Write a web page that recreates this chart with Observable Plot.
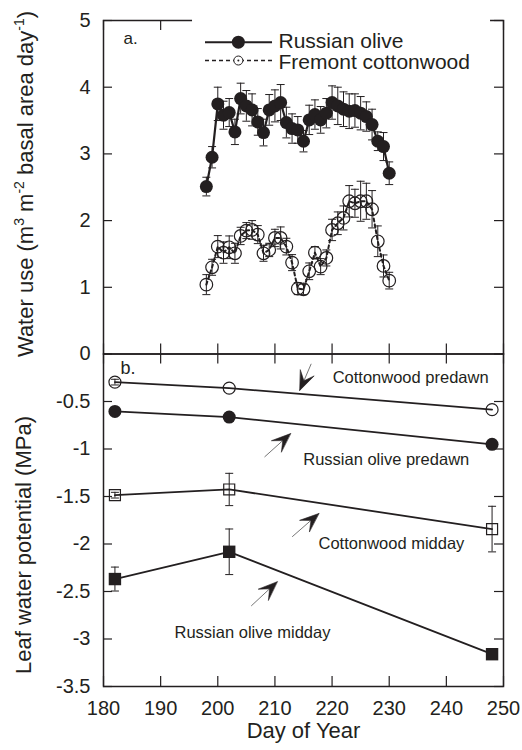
<!DOCTYPE html>
<html><head><meta charset="utf-8">
<script src="https://cdn.jsdelivr.net/npm/d3@7"></script>
<script src="https://cdn.jsdelivr.net/npm/@observablehq/plot@0.6"></script>
<style>
body{margin:0;background:#fff;}
#chart{position:relative;width:522px;height:750px;}
#chart svg{position:absolute;left:0;top:0;overflow:visible;background:transparent;}
</style></head><body><div id="chart"></div>
<script>
// ---------- data: panel a (water use) ----------
const DAYS = [198,199,200,201,202,203,204,205,206,207,208,209,210,211,212,213,214,215,216,217,218,219,220,221,222,223,224,225,226,227,228,229,230];
const OLIVE = [2.51,2.95,3.75,3.58,3.62,3.33,3.83,3.72,3.66,3.48,3.32,3.66,3.72,3.77,3.47,3.38,3.36,3.19,3.51,3.59,3.51,3.61,3.77,3.72,3.67,3.64,3.65,3.61,3.56,3.44,3.19,3.11,2.71];
const OLIVE_ERR = [0.14,0.16,0.25,0.21,0.21,0.19,0.23,0.23,0.24,0.2,0.2,0.23,0.24,0.27,0.23,0.22,0.2,0.16,0.22,0.22,0.2,0.22,0.25,0.28,0.26,0.26,0.25,0.25,0.22,0.23,0.14,0.21,0.17];
const COTTON = [1.04,1.30,1.61,1.52,1.60,1.51,1.77,1.85,1.86,1.79,1.51,1.56,1.74,1.74,1.61,1.37,0.98,0.97,1.24,1.52,1.31,1.44,1.86,1.96,2.04,2.29,2.26,2.29,2.29,2.17,1.69,1.32,1.10];
const COTTON_ERR = [0.15,0.12,0.165,0.16,0.17,0.15,0.13,0.12,0.14,0.135,0.12,0.1,0.13,0.165,0.125,0.12,0.09,0.08,0.125,0.09,0.12,0.12,0.16,0.17,0.18,0.235,0.21,0.3,0.27,0.28,0.23,0.165,0.125];
const SERIES_NAMES = ["Russian olive","Fremont cottonwood"];

// ---------- data: panel b (leaf water potential) ----------
const POT_DAYS = [182,202,248];
const CW_PREDAWN = [-0.296,-0.359,-0.586];
const CW_PREDAWN_ERR = [0.03,0,0];
const RO_PREDAWN = [-0.604,-0.664,-0.951];
const RO_PREDAWN_ERR = [0,0,0];
const CW_MIDDAY = [-1.486,-1.426,-1.843];
const CW_MIDDAY_ERR = [0.03,0.17,0.24];
const RO_MIDDAY = [-2.369,-2.082,-3.16];
const RO_MIDDAY_ERR = [0.126,0.24,0];

// ---------- ticks ----------
const X_TICKS = [180,190,200,210,220,230,240,250];
const Y_TICKS_A = [0,1,2,3,4,5];
const Y_TICKS_B = [-3.5,-3,-2.5,-2,-1.5,-1,-0.5];

// ---------- annotations (data coordinates) ----------
const NOTES = [
  {text:"Cottonwood predawn", day:220.1, v:-0.25},
  {text:"Russian olive predawn", day:214.95, v:-1.108},
  {text:"Cottonwood midday", day:217.63, v:-2.0},
  {text:"Russian olive midday", day:192.43, v:-2.936}
];
const ARROWS = [
  {x1:216.35, y1:-0.103, x2:214.35, y2:-0.383},
  {x1:208.18, y1:-1.084, x2:212.73, y2:-0.838},
  {x1:213.02, y1:-1.924, x2:217.68, y2:-1.679},
  {x1:205.85, y1:-2.652, x2:210.40, y2:-2.397}
];
const LEGEND_LINE = {x1:197.85, x2:209.58, mark:203.6, text:210.63};
const LEGEND_Y = [4.675, 4.40];
const LEGEND_TEXT_Y = [4.69, 4.37];
const LEGEND_BOX = {x1:195.58, x2:247.73, y1:4.22, y2:5.08};

// ---------- layout ----------
const W = 522, H = 750;
const ML = 103, MR = 19, TOP_A = 20, SPLIT = 353.5, BOT_B = 686;
const FONT = '"Liberation Sans", Arial, Helvetica, sans-serif';
const INK = "#231f20";

const capSymbol = {draw(ctx){ ctx.moveTo(-4,0); ctx.lineTo(4,0); }};

function frameTicks(plotH, yTicks, len) {
  const plotW = W - ML - MR;
  return [
    Plot.tickX(X_TICKS, {x: d=>d, insetBottom: plotH - 10, stroke: INK, strokeWidth: 1.2}),
    Plot.tickX(X_TICKS, {x: d=>d, insetTop: plotH - 10, stroke: INK, strokeWidth: 1.2}),
    Plot.tickY(yTicks, {y: d=>d, insetRight: plotW - len, stroke: INK, strokeWidth: 1.2}),
    Plot.tickY(yTicks, {y: d=>d, insetLeft: plotW - len, stroke: INK, strokeWidth: 1.2})
  ];
}

function errorMarks(rows, sw) {
  const r = rows.filter(d => d.e > 0);
  return [
    Plot.ruleX(r, {x:"day", y1: d=>d.v-d.e, y2: d=>d.v+d.e, stroke: INK, strokeWidth: sw}),
    Plot.dot(r, {x:"day", y: d=>d.v+d.e, symbol: capSymbol, stroke: INK, fill: "none", strokeWidth: sw}),
    Plot.dot(r, {x:"day", y: d=>d.v-d.e, symbol: capSymbol, stroke: INK, fill: "none", strokeWidth: sw})
  ];
}

// ---------- panel a ----------
const oliveRows = DAYS.map((d,i)=>({day:d, v:OLIVE[i], e:OLIVE_ERR[i]}));
const cottonRows = DAYS.map((d,i)=>({day:d, v:COTTON[i], e:COTTON_ERR[i]}));

const plotA = Plot.plot({
  width: W, height: H,
  marginTop: TOP_A, marginBottom: H - SPLIT, marginLeft: ML, marginRight: MR,
  style: {fontFamily: FONT, fontSize: "20px", color: INK, background: "transparent"},
  x: {domain: [180,250], axis: null},
  y: {domain: [0,5], label: null},
  marks: [
    Plot.frame({stroke: INK, strokeWidth: 1.5}),
    ...frameTicks(SPLIT - TOP_A, Y_TICKS_A, 9),
    Plot.axisY(Y_TICKS_A, {tickSize: 0, tickPadding: 13, fontSize: 20, tickFormat: d => String(d), label: null}),
    Plot.rect([LEGEND_BOX], {x1:"x1", x2:"x2", y1:"y1", y2:"y2", fill:"white", clip: false}),
    // cottonwood
    ...errorMarks(cottonRows, 1),
    Plot.line(cottonRows, {x:"day", y:"v", stroke: INK, strokeWidth: 2, strokeDasharray: "3,3"}),
    Plot.dot(cottonRows, {x:"day", y:"v", r: 6.3, stroke: INK, strokeWidth: 1.2, fill: "none", symbol: "circle"}),
    // russian olive
    ...errorMarks(oliveRows, 1),
    Plot.line(oliveRows, {x:"day", y:"v", stroke: INK, strokeWidth: 2.2}),
    Plot.dot(oliveRows, {x:"day", y:"v", r: 6.5, fill: INK, stroke: "none", symbol: "circle"}),
    // legend
    Plot.ruleY([LEGEND_Y[0]], {x1: LEGEND_LINE.x1, x2: LEGEND_LINE.x2, stroke: INK, strokeWidth: 2}),
    Plot.dot([LEGEND_Y[0]], {x: LEGEND_LINE.mark, y: d=>d, r: 6.5, fill: INK, stroke: "none"}),
    Plot.ruleY([LEGEND_Y[1]], {x1: LEGEND_LINE.x1, x2: LEGEND_LINE.x2, stroke: INK, strokeWidth: 1.5, strokeDasharray: "4,3"}),
    Plot.dot([LEGEND_Y[1]], {x: LEGEND_LINE.mark, y: d=>d, r: 4.5, fill: "white", stroke: INK, strokeWidth: 1}),
    Plot.dot([LEGEND_Y[1]], {x: LEGEND_LINE.mark, y: d=>d, r: 1, fill: INK, stroke: "none"}),
    Plot.text(SERIES_NAMES, {x: LEGEND_LINE.text, y: (d,i)=>LEGEND_TEXT_Y[i], text: d=>d, textAnchor: "start", fontSize: 21, fill: INK}),
    Plot.text(["a."], {x: 183.5, y: 4.73, text: d=>d, textAnchor: "start", fontSize: 17, fill: INK})
  ]
});

// ---------- panel b ----------
const mk = (vals, errs) => POT_DAYS.map((d,i)=>({day:d, v:vals[i], e:errs[i]}));
const cwPre = mk(CW_PREDAWN, CW_PREDAWN_ERR);
const roPre = mk(RO_PREDAWN, RO_PREDAWN_ERR);
const cwMid = mk(CW_MIDDAY, CW_MIDDAY_ERR);
const roMid = mk(RO_MIDDAY, RO_MIDDAY_ERR);

function makeB(heads) {
  return Plot.plot({
    width: W, height: H,
    marginTop: SPLIT, marginBottom: H - BOT_B, marginLeft: ML, marginRight: MR,
    style: {fontFamily: FONT, fontSize: "20px", color: INK, background: "transparent"},
    x: {domain: [180,250], label: null},
    y: {domain: [-3.5,0], label: null},
    marks: [
      Plot.frame({stroke: INK, strokeWidth: 1.5}),
      ...frameTicks(BOT_B - SPLIT, Y_TICKS_B, 9),
      Plot.axisY(Y_TICKS_B, {tickSize: 0, tickPadding: 13, fontSize: 20, tickFormat: d => String(d), label: null}),
      Plot.axisX(X_TICKS, {tickSize: 0, tickPadding: 14, fontSize: 20, label: null}),
      Plot.text(["Day of Year"], {frameAnchor: "bottom", dy: 51, text: d=>d, fontSize: 22, fill: INK}),
      // lines
      Plot.line(cwPre, {x:"day", y:"v", stroke: INK, strokeWidth: 1.8}),
      Plot.line(roPre, {x:"day", y:"v", stroke: INK, strokeWidth: 1.8}),
      Plot.line(cwMid, {x:"day", y:"v", stroke: INK, strokeWidth: 1.8}),
      Plot.line(roMid, {x:"day", y:"v", stroke: INK, strokeWidth: 1.8}),
      // error bars
      ...errorMarks(cwPre, 1), ...errorMarks(cwMid, 1), ...errorMarks(roMid, 1),
      // markers
      Plot.dot(cwPre, {x:"day", y:"v", r: 6, symbol: "circle", fill: "white", fillOpacity: 0, stroke: INK, strokeWidth: 1.2}),
      Plot.dot(roPre, {x:"day", y:"v", r: 6.5, symbol: "circle", fill: INK, stroke: "none"}),
      Plot.dot(cwMid, {x:"day", y:"v", r: 6.2, symbol: "square", fill: "none", stroke: INK, strokeWidth: 1.2}),
      Plot.dot(roMid, {x:"day", y:"v", r: 7, symbol: "square", fill: INK, stroke: "none"}),
      // annotations
      Plot.text(NOTES, {x:"day", y:"v", text:"text", textAnchor: "start", fontSize: 16.5, fill: INK}),
      Plot.link(ARROWS, {x1:"x1", y1:"y1", x2:"x2", y2:"y2", stroke: "#666", strokeWidth: 0.9}),
      Plot.line(heads, {x:"x", y:"y", z:"id", fill: INK, stroke: INK, strokeWidth: 0.6, curve: "linear-closed"}),
      Plot.text(["b."], {x: 182.98, y: -0.152, text: d=>d, textAnchor: "start", fontSize: 18, fill: INK})
    ]
  });
}
// arrowheads: dart polygons built through the panel's own x/y scales
const probe = makeB([]);
const psx = probe.scale("x"), psy = probe.scale("y");
const sx = d3.scaleLinear().domain(psx.domain).range(psx.range);
const sy = d3.scaleLinear().domain(psy.domain).range(psy.range);
const HEAD_L = 19, HEAD_W = 7.5, HEAD_N = 0.55;
const headRows = [];
ARROWS.forEach((a, id) => {
  const X = sx(a.x2), Y = sy(a.y2);
  const th = Math.atan2(Y - sy(a.y1), X - sx(a.x1));
  const c = Math.cos(th), s = Math.sin(th);
  [[0,0],[-HEAD_L,-HEAD_W],[-HEAD_N*HEAD_L,0],[-HEAD_L,HEAD_W]].forEach(([u,v]) => {
    headRows.push({id, x: sx.invert(X + u*c - v*s), y: sy.invert(Y + u*s + v*c)});
  });
});
const plotB = makeB(headRows);

const root = document.getElementById("chart");
root.appendChild(plotA);
root.appendChild(plotB);

// ---------- rotated axis titles with superscripts ----------
const g = d3.select(plotB).append("g").attr("font-family", FONT).attr("fill", INK);
function title(x, y, parts) {
  const t = g.append("text").attr("transform", `translate(${x},${y}) rotate(-90)`)
    .attr("text-anchor", "middle").attr("font-size", 22);
  let shifted = 0;
  parts.forEach(p => {
    const sup = typeof p !== "string";
    const s = t.append("tspan").text(sup ? p.sup : p);
    const target = sup ? -9 : 0;
    if (target !== shifted) { s.attr("dy", target - shifted); shifted = target; }
    if (sup) s.attr("font-size", 14);
  });
}
title(33, 184, ["Water use (m", {sup:"3"}, " m", {sup:"-2"}, " basal area day", {sup:"-1"}, ")"]);
title(31, 545, ["Leaf water potential (MPa)"]);
</script></body></html>
